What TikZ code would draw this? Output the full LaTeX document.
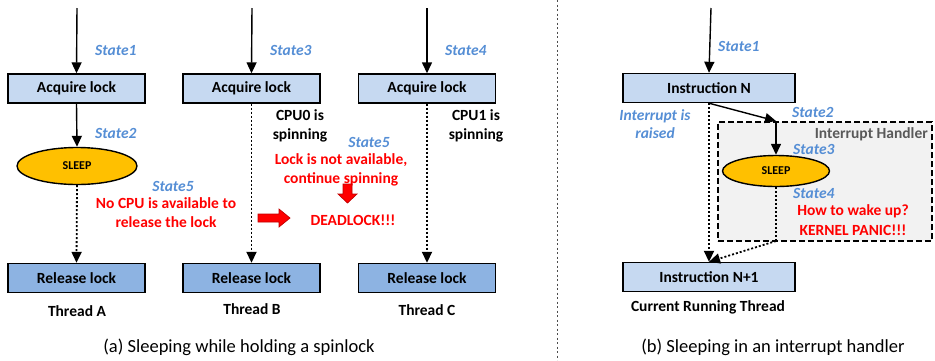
\documentclass[tikz,border=0pt]{standalone}
\usepackage{fontspec}
\setmainfont{Carlito}
\usetikzlibrary{arrows.meta,shapes.geometric}
\definecolor{boxA}{HTML}{C6D9F1}
\definecolor{boxB}{HTML}{8DB3E2}
\definecolor{sleepc}{HTML}{FFC000}
\definecolor{stateblue}{HTML}{558ED5}
\definecolor{handlergray}{HTML}{F2F2F2}
\definecolor{handlertext}{HTML}{595959}
\definecolor{alertred}{HTML}{FF0000}
\definecolor{arrowred}{HTML}{C00000}
\begin{document}
\begin{tikzpicture}[x=1pt,y=-1pt,
  acq/.style={draw,line width=1.4pt,fill=boxA,minimum width=137pt,minimum height=29pt,inner sep=0pt,font=\fontsize{15.5}{17}\selectfont\bfseries},
  rel/.style={acq,fill=boxB},
  sleepnode/.style={ellipse,draw,line width=1.4pt,fill=sleepc,inner sep=0pt,font=\fontsize{12}{14}\selectfont\bfseries},
  statelbl/.style={font=\fontsize{15.5}{18}\selectfont\bfseries\itshape,text=stateblue,inner sep=0pt},
  alert/.style={font=\fontsize{15.5}{19}\selectfont\bfseries,text=alertred,inner sep=0pt,align=center},
  plain/.style={font=\fontsize{15.5}{19}\selectfont\bfseries,inner sep=0pt,align=center},
  caption/.style={font=\fontsize{18.5}{20}\selectfont,inner sep=0pt},
  flow/.style={line width=1.4pt,-{Triangle[width=10pt,length=11pt]}},
  dflow/.style={line width=1.8pt,dash pattern=on 2pt off 2pt,-{Triangle[width=10pt,length=11pt]}},
  dline/.style={line width=1.8pt,dash pattern=on 2pt off 2pt},
  redarrow/.style={fill=alertred,draw=arrowred,line width=0.7pt}
]
\useasboundingbox (0,0) rectangle (935,360);

% ---------- (a) ----------
\coordinate (tA) at (77,8);
\coordinate (tB) at (252,8);
\coordinate (tC) at (427,8);
\node[acq] (acqA) at (76.5,88.5) {Acquire lock};
\node[acq] (acqB) at (251.5,88.5) {Acquire lock};
\node[acq] (acqC) at (427,88.5) {Acquire lock};
\node[sleepnode,minimum width=120pt,minimum height=37pt] (sleepA) at (77,166) {SLEEP};
\node[rel] (relA) at (76.5,278) {Release lock};
\node[rel] (relB) at (251.5,278) {Release lock};
\node[rel] (relC) at (427,278) {Release lock};

\draw[flow] (tA) -- (acqA.north);
\draw[flow] (tB) -- (acqB.north);
\draw[flow] (tC) -- (acqC.north);
\draw[flow] (acqA.south) -- (sleepA.north);
\draw[dflow] (sleepA.south) -- (relA.north);
\draw[dflow] (acqB.south) -- (relB.north);
\draw[dflow] (acqC.south) -- (relC.north);

\node[statelbl,anchor=west] (s1a) at (95,50) {State1};
\node[statelbl,anchor=west] (s2a) at (95,133) {State2};
\node[statelbl,anchor=west] (s3b) at (270,50) {State3};
\node[statelbl,anchor=west] (s4c) at (445,50) {State4};
\node[statelbl] (s5a) at (173,186) {State5};
\node[alert] (noCPU) at (166,213) {No CPU is available to\\release the lock};

\node[plain] (cpu0) at (300,125.5) {CPU0 is\\spinning};
\node[plain] (cpu1) at (476,125.5) {CPU1 is\\spinning};
\node[statelbl] (s5b) at (369,142) {State5};
\node[alert] (lockna) at (341,169.5) {Lock is not available,\\continue spinning};
\node[alert] (dead) at (353,220) {DEADLOCK!!!};

% red block arrows
\draw[redarrow] (258,214) -- (279,214) -- (279,209) -- (290,218) -- (279,227) -- (279,222) -- (258,222) -- cycle;
\draw[redarrow] (343,184) -- (352,184) -- (352,194) -- (357,194) -- (347.5,203) -- (338,194) -- (343,194) -- cycle;

\node[plain] (thA) at (77,311) {Thread A};
\node[plain] (thB) at (252,309) {Thread B};
\node[plain] (thC) at (427,310) {Thread C};
\node[caption] (capA) at (239,347) {(a) Sleeping while holding a spinlock};

% separator
\coordinate (sepT) at (557,0);
\coordinate (sepB) at (557,360);
\draw[line width=0.9pt,dash pattern=on 2pt off 2.5pt,black!70] (sepT) -- (sepB);

% ---------- (b) ----------
\node[draw,dash pattern=on 6pt off 3pt,line width=1.2pt,fill=handlergray,minimum width=214pt,minimum height=119pt,inner sep=0pt] (handler) at (825,181.5) {};
\node[font=\fontsize{15.5}{17}\selectfont\bfseries,text=handlertext,anchor=north east,inner sep=0pt] (hlbl) at (928,127) {Interrupt Handler};

\coordinate (tN) at (711,8);
\node[acq,minimum width=172pt] (insN) at (709,88) {Instruction N};
\node[acq,minimum width=172pt] (insN1) at (709,277) {Instruction N+1};
\node[sleepnode,minimum width=107pt,minimum height=31pt] (sleepB) at (776,171) {SLEEP};
\coordinate (j1) at (776,121);
\coordinate (j2) at (776,241);

\draw[flow] (tN) -- (insN.south |- insN.north);
\draw[dflow] (insN.south) -- (insN1.north);
\draw[flow] (insN.south) -- (j1);
\draw[flow] (j1) -- (sleepB.north);
\draw[dline] (sleepB.south) -- (j2);
\draw[dflow] (j2) -- (insN1.north);

\node[statelbl,anchor=west] (s1b) at (718,46) {State1};
\node[statelbl,align=center,font=\fontsize{15.5}{18}\selectfont\bfseries\itshape] (intr) at (655,124) {Interrupt is\\raised};
\node[statelbl,anchor=west] (s2b) at (792,112) {State2};
\node[statelbl,anchor=west] (s3b2) at (793,149) {State3};
\node[statelbl,anchor=west] (s4b) at (793,193) {State4};
\node[alert,font=\fontsize{15.5}{20}\selectfont\bfseries] (wake) at (853,220) {How to wake up?\\KERNEL PANIC!!!};

\node[plain] (crt) at (708,307) {Current Running Thread};
\node[caption] (capB) at (773,347) {(b) Sleeping in an interrupt handler};
\end{tikzpicture}
\end{document}
